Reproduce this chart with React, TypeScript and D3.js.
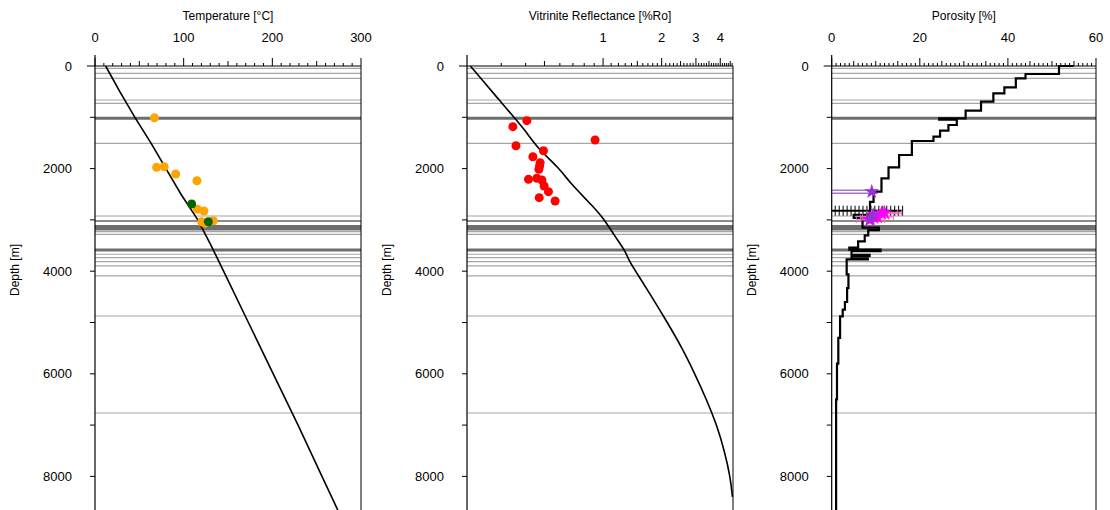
import React from 'react';
import * as d3 from 'd3';

// ---------- DATA ----------
const depthTicks = [0, 2000, 4000, 6000, 8000];
const depthMinorTicks = [1000, 3000, 5000, 7000];

const horizonDepths = [45, 142, 240, 663, 727, 1019, 1507, 2924, 3021, 3130, 3175, 3230, 3281, 3587, 3670, 3736, 3814, 3898, 4093, 4873, 6764];
const horizonKinds = ['minor', 'minor', 'minor', 'minor', 'minor', 'major', 'minor', 'minor', 'medium', 'major', 'major', 'minor', 'minor', 'major', 'minor', 'minor', 'minor', 'minor', 'minor', 'minor', 'minor'];

// Temperature panel
const tempTicks = [0, 100, 200, 300];
const tempCurveDepth = [0, 500, 1000, 1500, 2000, 2500, 3000, 3500, 4000, 5000, 6000, 7000, 8000, 8700];
const tempCurveValue = [12, 28, 45, 63, 80, 97, 116, 131, 145, 173, 201, 229, 256, 275];
const tempOrangeValue = [67, 69.5, 78, 91, 115, 115.4, 122.9, 120.3, 133.4, 124];
const tempOrangeDepth = [1008, 1975, 1963, 2105, 2236, 2793, 2827, 3035, 3016, 3066];
const tempGreenValue = [109, 127.8];
const tempGreenDepth = [2690, 3035];

// Vitrinite reflectance panel
const vrTicks = [1, 2, 3, 4];
const vrCurveDepth = [0, 300, 672, 1030, 1300, 1640, 1972, 2290, 2622, 2947, 3300, 3600, 3800, 4000, 4500, 5000, 5500, 6000, 6500, 7000, 7500, 8000, 8400];
const vrCurveValue = [0.208, 0.243, 0.294, 0.354, 0.406, 0.47, 0.59, 0.68, 0.83, 1.0, 1.14, 1.3, 1.36, 1.47, 1.78, 2.14, 2.55, 2.96, 3.4, 3.84, 4.2, 4.5, 4.62];
const vrPointValue = [0.406, 0.344, 0.91, 0.357, 0.494, 0.436, 0.475, 0.472, 0.468, 0.414, 0.457, 0.485, 0.498, 0.524, 0.47, 0.567];
const vrPointDepth = [1066, 1183, 1442, 1554, 1651, 1768, 1885, 1950, 2014, 2209, 2189, 2222, 2339, 2450, 2567, 2632];

// Porosity panel
const poroTicks = [0, 20, 40, 60];
const poroCurveValue = [54.9, 51.6, 51.6, 44, 44, 41.8, 41.8, 39.2, 39.2, 36.7, 36.7, 33.9, 33.9, 30.4, 30.4, 24.4, 24.4, 28.4, 28.4, 26.5, 26.5, 24.6, 24.6, 23.1, 23.1, 18.2, 18.2, 15.3, 15.3, 12.9, 12.9, 11.3, 11.3, 9.5, 9.5, 8.7, 8.7, 5, 5, 7, 7, 10.7, 10.7, 8.3, 8.3, 7.5, 7.5, 6, 6, 4, 4, 11.1, 11.1, 4.5, 4.5, 8.6, 8.6, 4.5, 4.5, 8.2, 8.2, 3.4, 3.4, 3.8, 3.8, 3.5, 3.5, 3.0, 3.0, 2.5, 2.5, 1.9, 1.9, 1.5, 1.5, 1.2, 1.2, 1.0, 1.0];
const poroCurveDepth = [0, 0, 156, 156, 240, 240, 415, 415, 532, 532, 696, 696, 871, 871, 1019, 1019, 1045, 1045, 1150, 1150, 1261, 1261, 1378, 1378, 1462, 1462, 1735, 1735, 1975, 1975, 2189, 2189, 2450, 2450, 2650, 2650, 2900, 2900, 2960, 2960, 3150, 3150, 3200, 3200, 3300, 3300, 3420, 3420, 3540, 3540, 3580, 3580, 3610, 3610, 3680, 3680, 3700, 3700, 3750, 3750, 3770, 3770, 4060, 4060, 4330, 4330, 4600, 4600, 4750, 4750, 4880, 4880, 5300, 5300, 5800, 5800, 6500, 6500, 8700];
const poroPlusValue = [0.8, 1.7, 2.6, 3.5, 4.4, 5.3, 6.2, 7.1, 8.0, 8.9, 9.8, 10.7, 11.6, 12.5, 13.4, 14.3, 15.2, 16.1];
const poroPlusDepth = 2821;
const poroPurpleValue = [9.1, 9.4, 8.8];
const poroPurpleDepth = [2450, 2904, 2985];
const poroPurpleLow = [0, 7.8, 7.0];
const poroPurpleHigh = [10.5, 11.0, 10.6];
const poroMagentaValue = [8.6, 10.4, 11.3, 12.0, 9.6];
const poroMagentaDepth = [3002, 2943, 2871, 2860, 2960];
const poroMagentaLow = [5.6, 7.0, 8.0, 9.0, 6.5];
const poroMagentaHigh = [12.0, 14.0, 15.9, 15.0, 13.0];

// ---------- LAYOUT ----------
const FONT = '"Liberation Sans", Arial, Helvetica, sans-serif';
const TOP = 66;
const BOTTOM = 510;
const yScale = d3.scaleLinear().domain([0, 8700]).range([TOP, TOP + 8700 * 0.0513]);

const xTemp = d3.scaleLinear().domain([0, 300]).range([95, 361]);
const xVr = d3.scaleLog().domain([0.2, 4.65]).range([467, 733]);
const xPoro = d3.scaleLinear().domain([0, 60]).range([831.7, 1096]);

const horizonStyle: Record<string, { c: string; w: number }> = {
  minor: { c: '#a6a6a6', w: 1.2 },
  medium: { c: '#8c8c8c', w: 2 },
  major: { c: '#6e6e6e', w: 3 },
};

type TickSpec = { v: number; len: number };

function Panel(props: {
  x: any;
  title: string;
  labels: number[];
  ticks: TickSpec[];
  children?: React.ReactNode;
}) {
  const { x, title, labels, ticks, children } = props;
  const [l, r] = x.range();
  return (
    <g>
      {horizonDepths.map((d, i) => {
        const s = horizonStyle[horizonKinds[i]];
        return <line key={'h' + i} x1={l} x2={r} y1={yScale(d)} y2={yScale(d)} stroke={s.c} strokeWidth={s.w} />;
      })}
      <line x1={l - 8} x2={r} y1={TOP} y2={TOP} stroke="#000" strokeWidth={1} />
      <line x1={l} x2={l} y1={55} y2={BOTTOM} stroke="#000" strokeWidth={1.2} />
      <line x1={r} x2={r} y1={TOP} y2={BOTTOM} stroke="#000" strokeWidth={1} />
      {ticks.map((t, i) => (
        <line key={'t' + i} x1={x(t.v)} x2={x(t.v)} y1={TOP} y2={TOP - t.len} stroke="#000" strokeWidth={1} />
      ))}
      {labels.map((v) => (
        <text key={'l' + v} x={x(v)} y={42} textAnchor="middle" fontSize={13} fontFamily={FONT} fill="#000">
          {v}
        </text>
      ))}
      <text x={(l + r) / 2} y={20} textAnchor="middle" fontSize={12} fontFamily={FONT} fill="#000">
        {title}
      </text>
      {depthMinorTicks.concat(depthTicks.slice(1)).map((d) => (
        <line key={'d' + d} x1={l - 5} x2={l} y1={yScale(d)} y2={yScale(d)} stroke="#000" strokeWidth={1} />
      ))}
      {depthTicks.map((d) => (
        <text key={'dl' + d} x={l - 23} y={yScale(d)} dy="0.35em" textAnchor="end" fontSize={13} fontFamily={FONT} fill="#000">
          {d}
        </text>
      ))}
      <text
        transform={`translate(${l - 80},${270}) rotate(-90)`}
        textAnchor="middle"
        dy="0.35em"
        fontSize={12}
        fontFamily={FONT}
        fill="#000"
      >
        Depth [m]
      </text>
      {children}
    </g>
  );
}

function tempTickSpecs(): TickSpec[] {
  return d3.range(0, 301, 10).map((v) => ({ v, len: v % 100 === 0 ? 8 : v % 50 === 0 ? 5 : 3 }));
}
function poroTickSpecs(): TickSpec[] {
  return d3.range(0, 61, 1).map((v) => ({ v, len: v % 20 === 0 ? 8 : v % 5 === 0 ? 5 : 3 }));
}
function vrTickSpecs(): TickSpec[] {
  const out: TickSpec[] = [];
  for (let k = 3; k <= 46; k++) {
    const v = k / 10;
    out.push({ v, len: k % 10 === 0 ? 8 : k % 5 === 0 ? 5 : 3 });
  }
  return out;
}

const starPath = d3.symbol().type(d3.symbolStar).size(70)() as string;

export default function App() {
  const tempLine = d3
    .line<number>()
    .x((_, i) => xTemp(tempCurveValue[i]))
    .y((d) => yScale(d));
  const vrLine = d3
    .line<number>()
    .x((_, i) => xVr(vrCurveValue[i]))
    .y((d) => yScale(d))
    .curve(d3.curveBasis);
  const poroLine = d3
    .line<number>()
    .x((_, i) => xPoro(poroCurveValue[i]))
    .y((d) => yScale(d));

  return (
    <svg width={1110} height={510} style={{ position: 'absolute', left: 0, top: 0, background: '#fff' }}>
      <rect x={0} y={0} width={1110} height={510} fill="#fff" />
      <Panel x={xTemp} title="Temperature [°C]" labels={tempTicks} ticks={tempTickSpecs()}>
        <path d={tempLine(tempCurveDepth) as string} fill="none" stroke="#000" strokeWidth={1.6} />
        {tempOrangeDepth.map((d, i) => (
          <circle key={'o' + i} cx={xTemp(tempOrangeValue[i])} cy={yScale(d)} r={4.5} fill="#ffa500" />
        ))}
        {tempGreenDepth.map((d, i) => (
          <circle key={'g' + i} cx={xTemp(tempGreenValue[i])} cy={yScale(d)} r={4.5} fill="#006400" />
        ))}
      </Panel>
      <Panel x={xVr} title="Vitrinite Reflectance [%Ro]" labels={vrTicks} ticks={vrTickSpecs()}>
        <path d={vrLine(vrCurveDepth) as string} fill="none" stroke="#000" strokeWidth={1.6} />
        {vrPointDepth.map((d, i) => (
          <circle key={'r' + i} cx={xVr(vrPointValue[i])} cy={yScale(d)} r={4.5} fill="#ff0000" />
        ))}
      </Panel>
      <Panel x={xPoro} title="Porosity [%]" labels={poroTicks} ticks={poroTickSpecs()}>
        <path d={poroLine(poroCurveDepth) as string} fill="none" stroke="#000" strokeWidth={2.2} />
        <line x1={xPoro(0)} x2={xPoro(16.1)} y1={yScale(poroPlusDepth)} y2={yScale(poroPlusDepth)} stroke="#000" strokeWidth={2} />
        {poroPlusValue.map((v, i) => (
          <line key={'p' + i} x1={xPoro(v)} x2={xPoro(v)} y1={yScale(poroPlusDepth) - 5} y2={yScale(poroPlusDepth) + 5} stroke="#000" strokeWidth={1} />
        ))}
        {poroMagentaDepth.map((d, i) => (
          <g key={'m' + i}>
            <line x1={xPoro(poroMagentaLow[i])} x2={xPoro(poroMagentaHigh[i])} y1={yScale(d)} y2={yScale(d)} stroke="#ff66cc" strokeWidth={1.2} />
            <line x1={xPoro(poroMagentaLow[i])} x2={xPoro(poroMagentaLow[i])} y1={yScale(d) - 3} y2={yScale(d) + 3} stroke="#ff66cc" strokeWidth={1} />
            <line x1={xPoro(poroMagentaHigh[i])} x2={xPoro(poroMagentaHigh[i])} y1={yScale(d) - 3} y2={yScale(d) + 3} stroke="#ff66cc" strokeWidth={1} />
          </g>
        ))}
        {poroPurpleDepth.map((d, i) => (
          <g key={'pp' + i}>
            <line x1={xPoro(poroPurpleLow[i])} x2={xPoro(poroPurpleHigh[i])} y1={yScale(d) - 1.5} y2={yScale(d) - 1.5} stroke="#7b2fbe" strokeWidth={1} />
            <line x1={xPoro(poroPurpleLow[i])} x2={xPoro(poroPurpleHigh[i])} y1={yScale(d) + 1.5} y2={yScale(d) + 1.5} stroke="#7b2fbe" strokeWidth={1} />
          </g>
        ))}
        {poroMagentaDepth.map((d, i) => (
          <path key={'ms' + i} d={starPath} transform={`translate(${xPoro(poroMagentaValue[i])},${yScale(d)})`} fill="#ff00ff" />
        ))}
        {poroPurpleDepth.map((d, i) => (
          <path key={'ps' + i} d={starPath} transform={`translate(${xPoro(poroPurpleValue[i])},${yScale(d)})`} fill="#9b30d9" />
        ))}
      </Panel>
    </svg>
  );
}
